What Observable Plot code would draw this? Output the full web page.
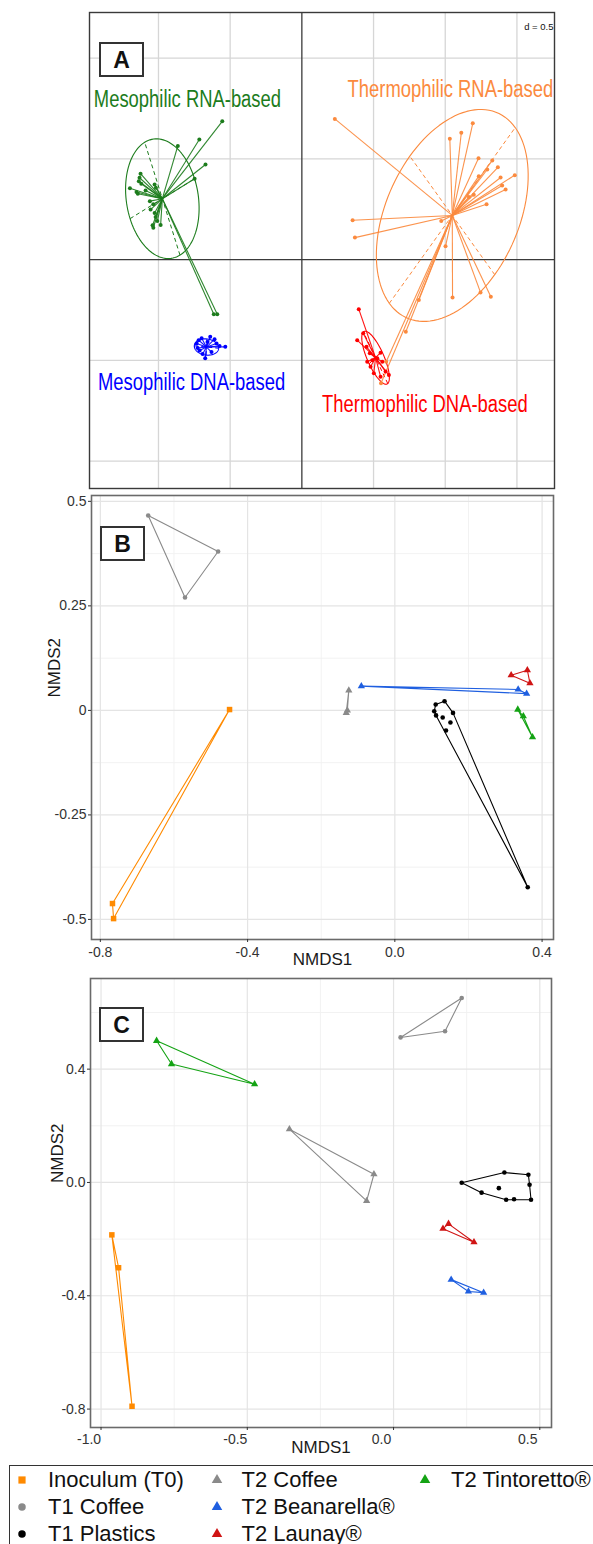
<!DOCTYPE html>
<html><head><meta charset="utf-8">
<script src="https://cdn.jsdelivr.net/npm/d3@7"></script>
<script src="https://cdn.jsdelivr.net/npm/@observablehq/plot@0.6"></script>
<style>
html,body{margin:0;padding:0;background:#fff;overflow:hidden;}
#root{position:relative;width:593px;height:1544px;overflow:hidden;font-family:"Liberation Sans",Arial,sans-serif;background:#fff;}
.panel{position:absolute;left:0;}
.tag{position:absolute;width:41px;height:31px;border:2px solid #333;background:#fff;font-weight:bold;font-size:23px;text-align:center;line-height:32px;color:#111;}
#legend{position:absolute;left:9px;top:1465px;width:620px;height:110px;border:1.5px solid #333;box-sizing:border-box;}
.li{position:absolute;font-size:22px;color:#111;white-space:nowrap;line-height:22px;}
.ls{position:absolute;}
</style></head>
<body><div id="root"></div>
<script>
// ---------------- Panel A : ade4 s.class (grid d = 0.5) ----------------
const groupsA = ["Mesophilic RNA-based","Thermophilic RNA-based","Mesophilic DNA-based","Thermophilic DNA-based"];
const colorsA = ["#1c7c1c","#fb8a3e","#0000ff","#ff0000"];
const mesoRNA = [[-0.555,0.686],[-0.715,0.596],[-0.865,0.564],[-0.672,0.472],[-0.748,0.401],
 [-1.125,0.426],[-1.132,0.406],[-1.137,0.389],[-1.120,0.376],[-1.199,0.354],
 [-1.153,0.335],[-1.144,0.327],[-1.090,0.343],[-1.027,0.373],[-1.018,0.356],
 [-1.060,0.290],[-1.036,0.274],[-1.055,0.248],[-1.027,0.231],[-1.020,0.211],
 [-1.008,0.191],[-1.036,0.158],[-0.985,0.171],[-1.041,0.170],[-0.614,-0.271],[-0.590,-0.271]];
const thermoRNA = [[0.230,0.698],[1.192,0.676],[1.112,0.629],[1.032,0.599],[1.232,0.503],[1.328,0.492],
 [1.293,0.447],[1.367,0.458],[1.234,0.414],[1.386,0.407],[1.485,0.419],[1.397,0.368],[1.421,0.348],
 [1.199,0.322],[1.165,0.310],[1.288,0.274],[0.354,0.195],[0.370,0.109],[0.972,0.191],[1.002,0.066],
 [1.051,-0.188],[1.246,-0.163],[1.318,-0.185],[0.816,-0.201],[0.725,-0.358],[0.588,-0.507],[0.552,-0.614]];
const mesoDNA = [[-0.674,-0.490],[-0.534,-0.433],[-0.574,-0.429],[-0.720,-0.400],[-0.699,-0.390],
 [-0.639,-0.383],[-0.609,-0.395],[-0.734,-0.417],[-0.713,-0.451],[-0.658,-0.409],[-0.630,-0.459],
 [-0.692,-0.469],[-0.595,-0.417],[-0.727,-0.439]];
const thermoDNA = [[0.397,-0.246],[0.386,-0.400],[0.451,-0.433],[0.428,-0.366],[0.474,-0.465],
 [0.549,-0.462],[0.561,-0.507],[0.479,-0.532],[0.502,-0.564],[0.607,-0.573],[0.549,-0.581],
 [0.526,-0.490],[0.491,-0.499],[0.584,-0.556],[0.456,-0.507]];
const pointsA = [mesoRNA, thermoRNA, mesoDNA, thermoDNA];
const centroidsA = [[-0.973,0.302],[1.049,0.219],[-0.665,-0.434],[0.514,-0.487]];
const ellipseMajorA = [[-0.123,0.280],[0.439,0.436],[0.085,-0.006],[-0.085,0.128]];
const ellipseMinorA = [[0.225,0.099],[-0.296,0.294],[0.003,0.040],[0.045,0.030]];
const labelPosA = [[-0.798,0.792],[1.036,0.842],[-0.769,-0.610],[0.858,-0.718]];
const gridXA = [-1,-0.5,0.5,1,1.5];
const gridYA = [-1,-0.5,0.5,1];

// ---------------- Panels B & C : NMDS ----------------
const groupsBC = ["Inoculum (T0)","T1 Coffee","T1 Plastics","T2 Coffee","T2 Beanarella®","T2 Launay®","T2 Tintoretto®"];
const colorsBC = ["#ff8a00","#8a8a8a","#000000","#8a8a8a","#1f5fe0","#d01414","#14a314"];
const symbolsBC = ["square","circle","circle","triangle","triangle","triangle","triangle"];

const inoculumB = [[-0.449,0.002],[-0.767,-0.462],[-0.764,-0.498]];
const t1CoffeeB = [[-0.670,0.466],[-0.480,0.380],[-0.570,0.270]];
const t1PlasticsB = [[0.111,0.014],[0.135,0.022],[0.107,-0.002],[0.112,-0.012],[0.130,-0.017],[0.158,-0.006],[0.151,-0.029],[0.139,-0.048],[0.361,-0.423]];
const t2CoffeeB = [[-0.125,0.048],[-0.129,0.000],[-0.132,-0.006]];
const t2BeanarellaB = [[-0.091,0.058],[0.335,0.050],[0.358,0.040]];
const t2LaunayB = [[0.316,0.084],[0.360,0.096],[0.367,0.065]];
const t2TintorettoB = [[0.334,0.002],[0.349,-0.014],[0.374,-0.064]];
const ticksXB = [-0.8,-0.4,0,0.4], minorXB = [-0.6,-0.2,0.2];
const ticksYB = [-0.5,-0.25,0,0.25,0.5], minorYB = [-0.375,-0.125,0.125,0.375];

const inoculumC = [[-0.963,-0.185],[-0.940,-0.301],[-0.894,-0.790]];
const t1CoffeeC = [[0.233,0.651],[0.176,0.534],[0.024,0.512]];
const t1PlasticsC = [[0.233,-0.001],[0.379,0.035],[0.461,0.027],[0.465,-0.008],[0.470,-0.061],[0.412,-0.059],[0.385,-0.061],[0.301,-0.036],[0.360,-0.020]];
const t2CoffeeC = [[-0.356,0.188],[-0.067,0.029],[-0.092,-0.065]];
const t2BeanarellaC = [[0.197,-0.343],[0.256,-0.385],[0.308,-0.389]];
const t2LaunayC = [[0.188,-0.146],[0.169,-0.163],[0.275,-0.211]];
const t2TintorettoC = [[-0.810,0.500],[-0.759,0.418],[-0.475,0.347]];
const ticksXC = [-1,-0.5,0,0.5], minorXC = [-0.75,-0.25,0.25];
const ticksYC = [-0.8,-0.4,0,0.4], minorYC = [-0.6,-0.2,0.2,0.6];

const root = document.getElementById("root");
const baseStyle = {fontFamily:"Liberation Sans, Arial, sans-serif", background:"none", color:"#333", overflow:"visible"};

// ---- Panel A build
const setsA = groupsA.map((g,i)=>({g, pts:pointsA[i], c:centroidsA[i], a:ellipseMajorA[i], b:ellipseMinorA[i]}));
const starA = setsA.flatMap(s=>s.pts.map(p=>({g:s.g,x1:s.c[0],y1:s.c[1],x2:p[0],y2:p[1]})));
const dotsA = setsA.flatMap(s=>s.pts.map(p=>({g:s.g,x:p[0],y:p[1]})));
const angles = d3.range(0, 121).map(k=>k*2*Math.PI/120);
const ellA = setsA.flatMap(s=>angles.map(t=>({g:s.g,
  x:s.c[0]+Math.cos(t)*s.a[0]+Math.sin(t)*s.b[0],
  y:s.c[1]+Math.cos(t)*s.a[1]+Math.sin(t)*s.b[1]})));
const axesA = setsA.flatMap(s=>[s.a,s.b].map(v=>({g:s.g,x1:s.c[0]-v[0],y1:s.c[1]-v[1],x2:s.c[0]+v[0],y2:s.c[1]+v[1]})));
const labelsA = groupsA.map((g,i)=>({g,x:labelPosA[i][0],y:labelPosA[i][1]}));

const plotA = Plot.plot({
  width:593, height:490, marginTop:12, marginBottom:2, marginLeft:89, marginRight:39,
  x:{domain:[-1.481,1.762], axis:null}, y:{domain:[-1.136,1.226], axis:null},
  color:{domain:groupsA, range:colorsA},
  style:baseStyle,
  marks:[
    Plot.ruleX(gridXA,{stroke:"#d6d6d6",strokeWidth:1.3}),
    Plot.ruleY(gridYA,{stroke:"#d6d6d6",strokeWidth:1.3}),
    Plot.ruleX([0],{stroke:"#3a3a3a",strokeWidth:1.3}),
    Plot.ruleY([0],{stroke:"#3a3a3a",strokeWidth:1.3}),
    Plot.line(ellA,{x:"x",y:"y",z:"g",stroke:"g",strokeWidth:1.1}),
    Plot.link(axesA,{x1:"x1",y1:"y1",x2:"x2",y2:"y2",stroke:"g",strokeWidth:1,strokeDasharray:"4,3"}),
    Plot.link(starA,{x1:"x1",y1:"y1",x2:"x2",y2:"y2",stroke:"g",strokeWidth:1.1,strokeOpacity:0.92}),
    Plot.dot(dotsA,{x:"x",y:"y",fill:"g",r:2}),
    Plot.frame({stroke:"#3a3a3a",strokeWidth:1.4}),
    Plot.text(labelsA,{x:"x",y:"y",text:"g",fill:"g",fontSize:23,textAnchor:"middle"}),
    Plot.text(["d = 0.5"],{frameAnchor:"top-right",text:d=>d,dx:-1,dy:11,fontSize:9.5,fill:"#111",textAnchor:"end"})
  ]
});
plotA.classList.add("panel"); plotA.style.top="0px";
root.appendChild(plotA);
d3.select(plotA).selectAll("text").each(function(){
  if (this.textContent.includes("based")) {
    const w = this.getComputedTextLength();
    this.setAttribute("textLength", (w*0.8).toFixed(1));
    this.setAttribute("lengthAdjust","spacingAndGlyphs");
  }
});

// ---- Panels B, C build
function buildRows(sets){
  const hull=[], pts=[];
  sets.forEach((arr,i)=>{
    const g = groupsBC[i];
    const h = d3.polygonHull(arr); h.push(h[0]);
    h.forEach(p=>hull.push({g,x:p[0],y:p[1]}));
    arr.forEach(p=>pts.push({g,x:p[0],y:p[1],sym:symbolsBC[i]}));
  });
  return {hull, pts};
}
function nmdsPlot(sets, o){
  const {hull, pts} = buildRows(sets);
  const dotMarks = [["square",3.1],["circle",2.3],["triangle",2.7]].map(([s,r])=>
    Plot.dot(pts.filter(d=>d.sym===s),{x:"x",y:"y",fill:"g",symbol:s,r}));
  const xAxisMarks = o.xLabelShift ? [
      Plot.axisX(o.tx,{tickSize:3,tickFormat:()=>"",label:null}),
      Plot.axisX(o.tx,{tickSize:0,tickPadding:o.xPad,dx:o.xLabelShift,tickFormat:d=>d.toFixed(1),fontSize:14,label:null})
    ] : [Plot.axisX(o.tx,{tickSize:3,tickPadding:o.xPad,tickFormat:d=>d.toFixed(1),fontSize:14,label:null})];
  return Plot.plot({
    width:593, height:o.h, marginTop:o.mt, marginBottom:o.mb, marginLeft:o.ml, marginRight:o.mr,
    x:{domain:o.xd}, y:{domain:o.yd},
    color:{domain:groupsBC, range:colorsBC},
    style:baseStyle,
    marks:[
      Plot.ruleX(o.mx,{stroke:"#f0f0f0",strokeWidth:0.9}),
      Plot.ruleY(o.my,{stroke:"#f0f0f0",strokeWidth:0.9}),
      Plot.ruleX(o.tx,{stroke:"#e4e4e4",strokeWidth:1.2}),
      Plot.ruleY(o.ty,{stroke:"#e4e4e4",strokeWidth:1.2}),
      Plot.line(hull,{x:"x",y:"y",z:"g",stroke:"g",strokeWidth:1.1}),
      ...dotMarks,
      Plot.frame({stroke:"#6a6a6a",strokeWidth:1.6}),
      ...xAxisMarks,
      Plot.axisY(o.ty,{tickSize:3,tickPadding:2,tickFormat:o.yFmt,fontSize:14,label:null}),
      Plot.text(["NMDS1"],{frameAnchor:"bottom",text:d=>d,dy:25,fontSize:17,fill:"#1a1a1a"}),
      Plot.text(["NMDS2"],{frameAnchor:"left",text:d=>d,dx:o.ylDx,dy:-20,rotate:-90,fontSize:17,fill:"#1a1a1a"})
    ]
  });
}
const plotB = nmdsPlot([inoculumB,t1CoffeeB,t1PlasticsB,t2CoffeeB,t2BeanarellaB,t2LaunayB,t2TintorettoB],
  {h:485, mt:7, mb:34, ml:91, mr:40, xd:[-0.824,0.431], yd:[-0.548,0.514],
   tx:ticksXB, mx:minorXB, ty:ticksYB, my:minorYB, yFmt:d=>String(d), xPad:4.5, ylDx:-37});
plotB.classList.add("panel"); plotB.style.top="488px";
root.appendChild(plotB);

const plotC = nmdsPlot([inoculumC,t1CoffeeC,t1PlasticsC,t2CoffeeC,t2BeanarellaC,t2LaunayC,t2TintorettoC],
  {h:490, mt:5, mb:36, ml:90, mr:42, xd:[-1.036,0.540], yd:[-0.865,0.720],
   tx:ticksXC, mx:minorXC, ty:ticksYC, my:minorYC, yFmt:d=>d.toFixed(1), xPad:6.5, xLabelShift:-12, ylDx:-33});
plotC.classList.add("panel"); plotC.style.top="973px";
root.appendChild(plotC);

// ---- panel tags
[["A",99,42],["B",100,526],["C",99,1007]].forEach(([t,l,tp])=>{
  const d=document.createElement("div"); d.className="tag"; d.textContent=t;
  d.style.left=l+"px"; d.style.top=tp+"px"; root.appendChild(d);
});

// ---- legend (column-major, 3 rows)
const leg=document.createElement("div"); leg.id="legend"; root.appendChild(leg);
const colSym=[11.5,206.5,414.5], colTxt=[38,231.5,441], rowY=[14,41,68];
groupsBC.forEach((g,i)=>{
  const c=Math.floor(i/3), r=i%3;
  const s=document.createElementNS("http://www.w3.org/2000/svg","svg");
  s.setAttribute("width",16); s.setAttribute("height",16); s.setAttribute("class","ls");
  s.style.left=(colSym[c]-8)+"px"; s.style.top=(rowY[r]-8)+"px";
  const sym = symbolsBC[i]==="square"?d3.symbolSquare:symbolsBC[i]==="circle"?d3.symbolCircle:d3.symbolTriangle;
  const size = symbolsBC[i]==="square"?52:symbolsBC[i]==="circle"?44:48;
  d3.select(s).append("path").attr("transform","translate(8,8)").attr("d",d3.symbol(sym,size)()).attr("fill",colorsBC[i]);
  leg.appendChild(s);
  const t=document.createElement("div"); t.className="li"; t.textContent=g;
  t.style.left=colTxt[c]+"px"; t.style.top=(rowY[r]-11)+"px"; leg.appendChild(t);
});
</script></body></html>
